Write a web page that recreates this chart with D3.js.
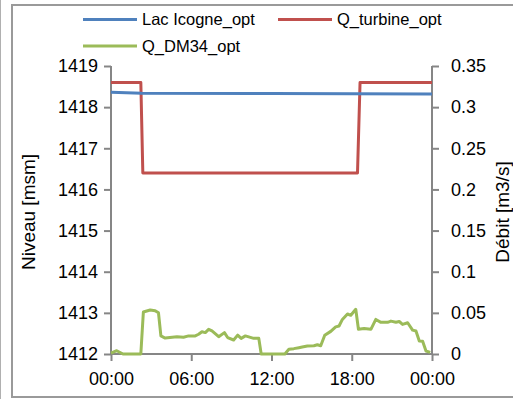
<!DOCTYPE html>
<html><head><meta charset="utf-8">
<script src="https://cdn.jsdelivr.net/npm/d3@7"></script>
<style>body{margin:0;background:#fff}svg{display:block;font-family:"Liberation Sans",Arial,sans-serif}</style>
</head><body><svg id="c" width="513" height="399"></svg>
<script>
// ---- data ----
const xTickHours = [0, 6, 12, 18, 24];
const xTickLabels = ["00:00", "06:00", "12:00", "18:00", "00:00"];
const leftTicks = [1412, 1413, 1414, 1415, 1416, 1417, 1418, 1419];
const rightTicks = [0, 0.05, 0.1, 0.15, 0.2, 0.25, 0.3, 0.35];
const rightTickLabels = ["0", "0.05", "0.1", "0.15", "0.2", "0.25", "0.3", "0.35"];
const seriesNames = ["Lac Icogne_opt", "Q_turbine_opt", "Q_DM34_opt"];

const lacHours = [0, 2.3, 12, 24];
const lacValues = [1418.36, 1418.34, 1418.33, 1418.32];

const turbHours = [0, 2.23, 2.38, 18.43, 18.62, 24];
const turbValues = [0.33, 0.33, 0.22, 0.22, 0.33, 0.33];

const dmHours = [0, 0.43, 0.9, 2.23, 2.42, 2.93, 3.3, 3.55, 3.73, 4.05, 4.93, 5.42, 5.8, 6.3, 6.55, 6.8, 7.05, 7.3, 7.55, 8.05, 8.48, 8.72, 9.17, 9.47, 9.73, 10.05, 10.67, 11.05, 11.23, 13.0, 13.3, 13.67, 14.05, 14.3, 14.68, 15.17, 15.43, 15.68, 15.98, 16.43, 16.8, 17.05, 17.3, 17.68, 17.93, 18.3, 18.5, 18.92, 19.43, 19.8, 20.18, 20.68, 20.93, 21.3, 21.55, 21.8, 22.18, 22.55, 22.8, 23.05, 23.3, 23.55, 23.87];
const dmValues = [0.001, 0.004, 0, 0, 0.051, 0.0535, 0.0526, 0.05, 0.022, 0.0194, 0.021, 0.0203, 0.022, 0.022, 0.024, 0.027, 0.026, 0.030, 0.028, 0.021, 0.026, 0.020, 0.017, 0.023, 0.019, 0.022, 0.019, 0.019, 0, 0, 0.0057, 0.0065, 0.0077, 0.0085, 0.0097, 0.0101, 0.0113, 0.0101, 0.0227, 0.0275, 0.033, 0.034, 0.042, 0.0486, 0.047, 0.0543, 0.030, 0.031, 0.030, 0.042, 0.0385, 0.0385, 0.040, 0.0385, 0.0395, 0.036, 0.038, 0.029, 0.028, 0.0158, 0.0155, 0.0036, 0.002];

const colors = ["#4F81BD", "#C0504D", "#9BBB59"];

// ---- layout ----
const svg = d3.select("#c");
const L = 111, R = 432, T = 66, B = 354;
const x = d3.scaleLinear().domain([0, 24]).range([L, R]);
const yL = d3.scaleLinear().domain([1412, 1419]).range([B, T]);
const yR = d3.scaleLinear().domain([0, 0.35]).range([B, T]);
const axisColor = "#868686";

// frame
svg.append("line").attr("x1", 0.5).attr("x2", 0.5).attr("y1", 0).attr("y2", 399).attr("stroke", "#b0b0b0").attr("stroke-width", 1);
svg.append("rect").attr("x", 12).attr("y", 5).attr("width", 520).attr("height", 392)
  .attr("fill", "none").attr("stroke", "#9a9a9a").attr("stroke-width", 2);

// axes
const axL = svg.append("g").attr("transform", `translate(${L},0)`)
  .call(d3.axisLeft(yL).tickValues(leftTicks).tickFormat(d3.format("d")).tickSize(7).tickPadding(6));
const axR = svg.append("g").attr("transform", `translate(${R},0)`)
  .call(d3.axisRight(yR).tickValues(rightTicks).tickFormat((d, i) => rightTickLabels[i]).tickSize(7).tickPadding(12));
const axB = svg.append("g").attr("transform", `translate(0,${B})`)
  .call(d3.axisBottom(x).tickValues(xTickHours).tickFormat((d, i) => xTickLabels[i]).tickSize(7).tickPadding(11));
[axL, axR, axB].forEach(a => {
  a.select(".domain").attr("stroke", axisColor).attr("stroke-width", 2);
  a.selectAll(".tick line").attr("stroke", axisColor).attr("stroke-width", 2);
  a.selectAll("text").attr("fill", "#000").style("font-size", "18px").style("font-family", '"Liberation Sans",Arial,sans-serif');
});
axB.select(".domain").attr("d", `M${L},0H${R}`);
axL.select(".domain").attr("d", `M0,${T}V${B}`);
axR.select(".domain").attr("d", `M0,${T}V${B}`);

// axis titles
svg.append("text").attr("transform", `translate(35,${(T + B) / 2 + 2}) rotate(-90)`)
  .attr("text-anchor", "middle").style("font-size", "19px").text("Niveau [msm]");
svg.append("text").attr("transform", `translate(509,${(T + B) / 2 + 2}) rotate(-90)`)
  .attr("text-anchor", "middle").style("font-size", "19px").text("Débit [m3/s]");

// lines
const lineL = d3.line().x(d => x(d[0])).y(d => yL(d[1]));
const lineR = d3.line().x(d => x(d[0])).y(d => yR(d[1]));
const dmData = dmHours.map((h, i) => [h, dmValues[i]]);
const turbData = turbHours.map((h, i) => [h, turbValues[i]]);
const lacData = lacHours.map((h, i) => [h, lacValues[i]]);
svg.append("path").attr("d", lineR(dmData)).attr("fill", "none").attr("stroke", colors[2]).attr("stroke-width", 3).attr("stroke-linejoin", "round");
svg.append("path").attr("d", lineR(turbData)).attr("fill", "none").attr("stroke", colors[1]).attr("stroke-width", 3).attr("stroke-linejoin", "round");
svg.append("path").attr("d", lineL(lacData)).attr("fill", "none").attr("stroke", colors[0]).attr("stroke-width", 3).attr("stroke-linejoin", "round");

// legend
const legPos = [[83, 19.5], [278, 19.5], [83, 46]];
seriesNames.forEach((n, i) => {
  const [lx, ly] = legPos[i];
  svg.append("line").attr("x1", lx).attr("x2", lx + 54).attr("y1", ly).attr("y2", ly)
    .attr("stroke", colors[i]).attr("stroke-width", 3);
  svg.append("text").attr("x", lx + 59).attr("y", ly).attr("dy", "0.35em")
    .style("font-size", "16.5px").text(n);
});
</script></body></html>
